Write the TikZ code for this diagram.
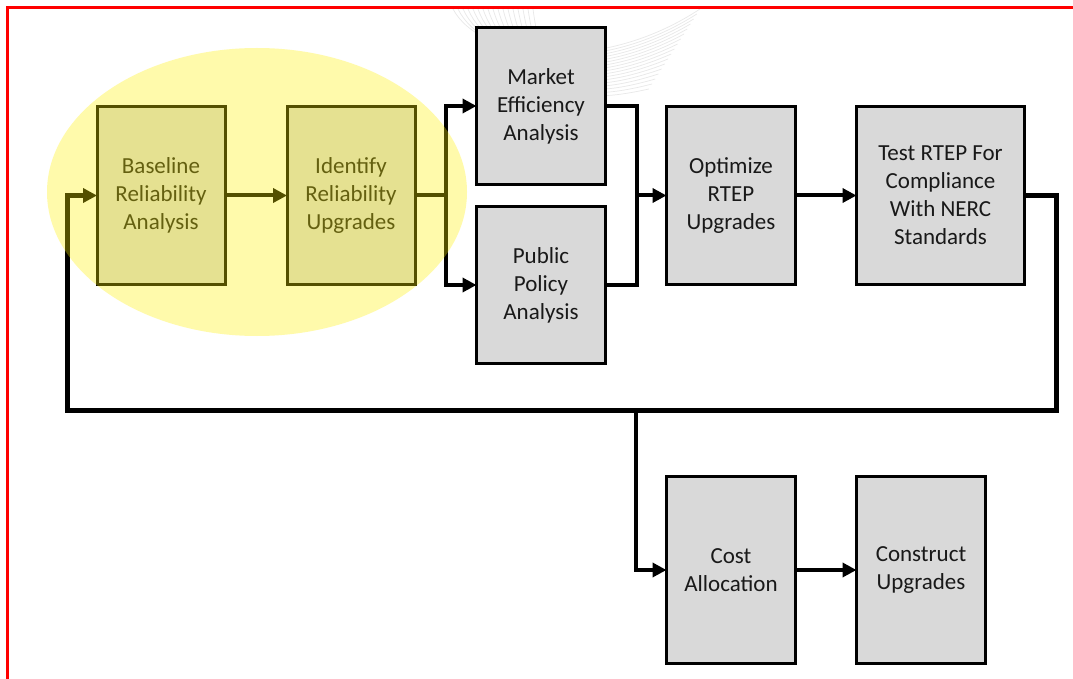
\documentclass[tikz,border=0pt]{standalone}
\usepackage{fontspec}
\setmainfont{Carlito}
\usetikzlibrary{arrows.meta}

\definecolor{boxgray}{HTML}{D9D9D9}
\tikzset{
  stage/.style={draw=black, line width=3pt, fill=boxgray, inner sep=0pt, outer sep=0pt,
    align=center, text=black!90, font=\fontsize{23}{28}\selectfont},
  link/.style={draw=black, line width=4pt, line join=miter},
  arr/.style={link, -{Triangle[length=14pt,width=14pt]}},
  loopline/.style={draw=black, line width=5pt, line join=miter, -{Triangle[length=14pt,width=14pt]}},
}

\begin{document}
\begin{tikzpicture}[x=1pt,y=-1pt]
\useasboundingbox (0,0) rectangle (1073,679);
\clip (0,0) rectangle (1073,679);
\fill[white] (0,0) rectangle (1073,679);

% faint swirl ornament behind the chart
\foreach \i in {0,...,16}{
  \draw[black!9, line width=0.7pt]
    (453+5*\i,9) .. controls (480+4*\i,60+2*\i) and (600-2*\i,75+2*\i) .. (700-3.2*\i,9+5*\i);
}

% page frame
\draw[red, line width=3pt] (7.5,700) -- (7.5,7.5) -- (1090,7.5);

% process stages
\node[stage, minimum width=128pt, minimum height=178pt] (base)   at (161,195.5) {Baseline\\Reliability\\Analysis};
\node[stage, minimum width=128pt, minimum height=178pt] (ident)  at (351,195.5) {Identify\\Reliability\\Upgrades};
\node[stage, minimum width=129pt, minimum height=157pt] (market) at (541,106)   {Market\\Efficiency\\Analysis};
\node[stage, minimum width=129pt, minimum height=157pt] (public) at (541,285)   {Public\\Policy\\Analysis};
\node[stage, minimum width=129pt, minimum height=178pt] (optim)  at (731,195.5) {Optimize\\RTEP\\Upgrades};
\node[stage, minimum width=168pt, minimum height=178pt] (test)   at (940.5,195.5) {Test RTEP For\\Compliance\\With NERC\\Standards};
\node[stage, minimum width=129pt, minimum height=187pt] (cost)   at (731,570)   {Cost\\Allocation};
\node[stage, minimum width=129pt, minimum height=187pt] (constr) at (921,570)   {Construct\\Upgrades};

% junctions and loop corners
\coordinate (split) at (446,195.5);
\coordinate (merge) at (637,195.5);
\coordinate (loopR) at (1056,410);
\coordinate (loopL) at (67,410);
\coordinate (tap)   at (636,410);

% connectors
\draw[arr] (base.east) -- (ident.west);
\draw[link] (ident.east) -- (split);
\draw[arr] (split) |- (market.west);
\draw[arr] (split) |- (public.west);
\draw[link] (market.east) -| (merge) |- (public.east);
\draw[arr] (merge) -- (optim.west);
\draw[arr] (optim.east) -- (test.west);
\draw[loopline] (test.east) -| (loopR) -- (loopL) |- (base.west);
\draw[arr] (tap) |- (cost.west);
\draw[arr] (cost.east) -- (constr.west);

% highlight over the reliability stages
\fill[yellow, fill opacity=0.33] (257,192) ellipse [x radius=210, y radius=144];
\end{tikzpicture}
\end{document}
